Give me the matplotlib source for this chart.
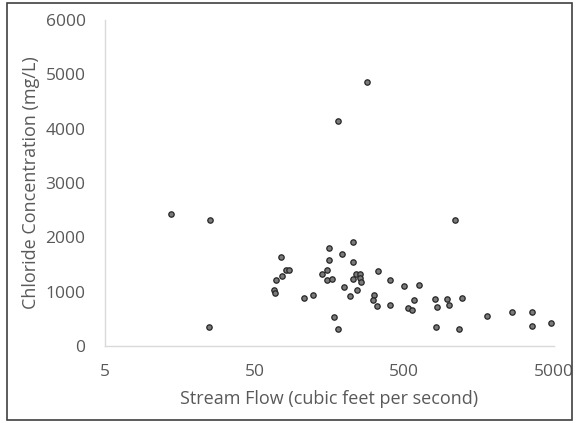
import matplotlib
matplotlib.use("Agg")
import matplotlib.pyplot as plt
from matplotlib.patches import Rectangle
from matplotlib.ticker import FixedLocator, FixedFormatter, NullLocator

# Stream flow (cfs) and chloride concentration (mg/L) samples
stream_flow = [
    13.9, 25.0, 24.8, 74.9, 69.0, 76.1, 81.3, 85.4, 67.0, 68.0,
    106.8, 123.1, 156.1, 157.3, 141.9, 153.2, 153.2, 163.4, 168.6, 181.0,
    179.3, 282.7, 225.7, 191.5, 225.7, 225.7, 239.3, 252.5, 252.5, 257.6,
    196.5, 217.2, 240.1, 334.7, 400.7, 495.4, 629.0, 315.7, 307.5, 329.0,
    402.6, 532.5, 559.7, 581.6, 800.7, 831.8, 816.6, 967.0, 997.5, 1213.0,
    1153.0, 1787.0, 2609.0, 3576.0, 3576.0, 4790.0, 1089.0,
]
chloride = [
    2435, 2314, 350, 1644, 1209, 1294, 1393, 1393, 1036, 970,
    878, 942, 1795, 1574, 1322, 1393, 1209, 1237, 534, 313,
    4147, 4859, 1909, 1699, 1541, 1242, 1316, 1316, 1246, 1182,
    1082, 926, 1025, 1377, 1211, 1110, 1117, 942, 841, 733,
    749, 705, 663, 841, 861, 709, 346, 865, 755, 883,
    318, 552, 620, 631, 372, 429, 2328,
]

x_ticks = [5, 50, 500, 5000]
x_tick_labels = ["5", "50", "500", "5000"]
y_ticks = [0, 1000, 2000, 3000, 4000, 5000, 6000]

plt.rcParams["font.family"] = ["Open Sans", "DejaVu Sans"]
text_color = "#595959"
axis_color = "#d9d9d9"

fig = plt.figure(figsize=(5.78, 4.23), dpi=100)
ax = fig.add_axes([105 / 578, 1 - 346 / 423, (554 - 105) / 578, (346 - 20) / 423])

ax.scatter(stream_flow, chloride, s=15, facecolor="#7a7a7a",
           edgecolor="#262626", linewidths=0.9, zorder=3)

ax.set_xscale("log")
ax.set_xlim(5, 5000)
ax.set_ylim(0, 6000)
ax.xaxis.set_major_locator(FixedLocator(x_ticks))
ax.xaxis.set_major_formatter(FixedFormatter(x_tick_labels))
ax.xaxis.set_minor_locator(NullLocator())
ax.set_yticks(y_ticks)
ax.set_yticklabels([str(v) for v in y_ticks])

for side in ("top", "right"):
    ax.spines[side].set_visible(False)
for side in ("left", "bottom"):
    ax.spines[side].set_color(axis_color)
    ax.spines[side].set_linewidth(1.0)

ax.tick_params(axis="both", length=0, labelsize=12.5, colors=text_color)
ax.tick_params(axis="x", pad=13)
ax.tick_params(axis="y", pad=14)

ax.set_xlabel("Stream Flow (cubic feet per second)", fontsize=13,
              color=text_color, labelpad=7)
ax.set_ylabel("Chloride Concentration (mg/L)", fontsize=13,
              color=text_color, labelpad=4)

fig.patches.append(Rectangle((7 / 578, 1 - 420 / 423), (572 - 7) / 578,
                             (420 - 3) / 423, transform=fig.transFigure,
                             fill=False, edgecolor="#404040", linewidth=1.2))

fig.savefig("out.png", dpi=100)
